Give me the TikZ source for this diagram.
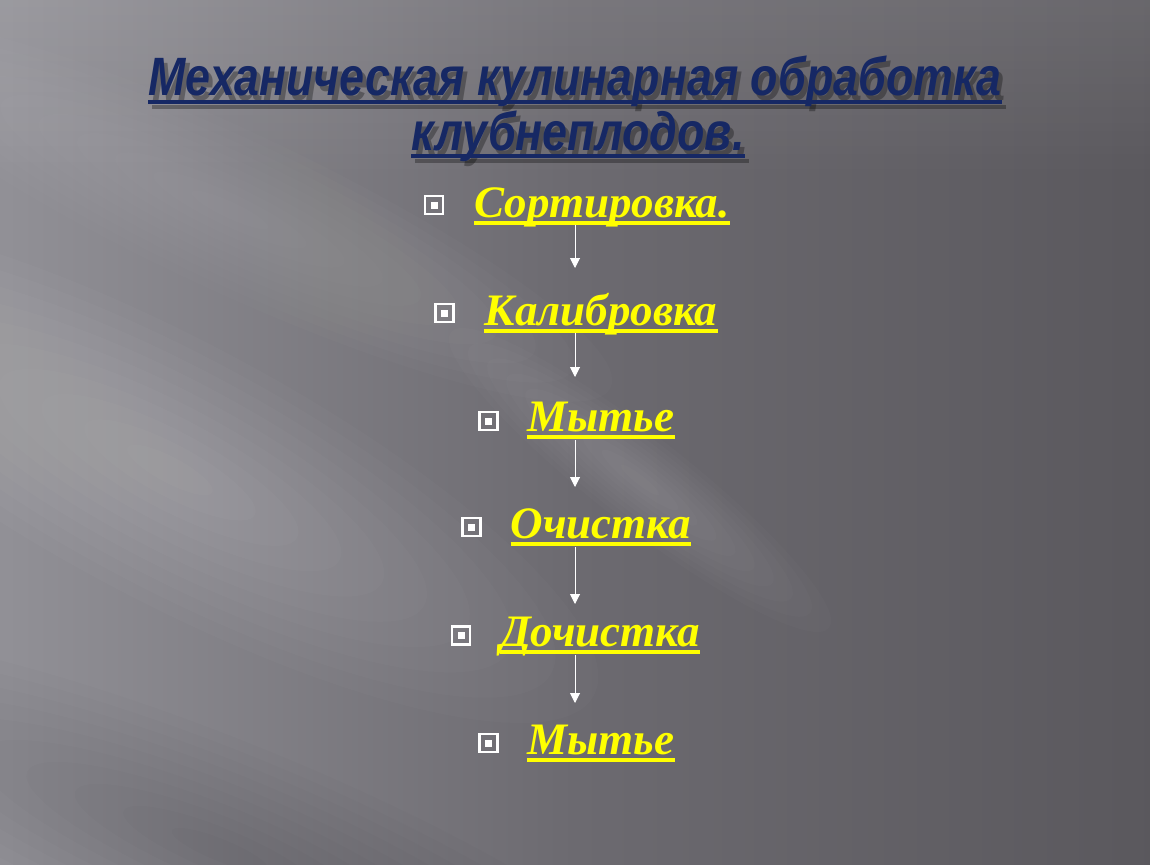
\documentclass[tikz,border=0pt]{standalone}
\usepackage{fontspec}
\setmainfont{Liberation Serif}
\newfontfamily\titlefont{Liberation Sans}
\usetikzlibrary{arrows.meta,calc,fadings}
\definecolor{bgL}{RGB}{146,145,151}
\definecolor{bgM}{RGB}{108,106,112}
\definecolor{bgR}{RGB}{90,88,93}
\definecolor{titleblue}{RGB}{22,40,100}
\definecolor{itemyellow}{RGB}{255,255,0}
\tikzset{
  titletext/.style={font=\titlefont\bfseries\itshape\fontsize{54}{60}\selectfont, inner sep=0pt, anchor=base, xscale=0.83, transform shape},
  titleul/.style={append after command={([yshift=-6pt]\tikzlastnode.base west) edge[line width=4pt, draw=titleblue] ([yshift=-6pt]\tikzlastnode.base east)}},
  shadowul/.style={append after command={([yshift=-6pt]\tikzlastnode.base west) edge[line width=4pt, draw=black, opacity=0.3] ([yshift=-6pt]\tikzlastnode.base east)}},
  itemtext/.style={font=\bfseries\itshape\fontsize{45}{50}\selectfont, text=itemyellow, inner sep=0pt, anchor=base,
    append after command={([yshift=-6pt]\tikzlastnode.base west) edge[line width=4pt, draw=itemyellow] ([yshift=-6pt]\tikzlastnode.base east)}},
  bulletbox/.style={draw=white, line width=2.5pt, minimum size=18pt, inner sep=0pt,
    path picture={\fill[white] (path picture bounding box.center) ++(-3.5pt,-3.5pt) rectangle ++(7pt,7pt);}},
  arr/.style={draw=white, line width=1pt, -{Triangle[length=10pt,width=10pt]}}
}
\begin{document}
\begin{tikzpicture}[x=1pt,y=-1pt]
\useasboundingbox (0,0) rectangle (1150,864);
% background
\begin{scope}
\clip (0,0) rectangle (1150,864);
\shade[left color=bgL, right color=bgR, middle color=bgM] (-10,-10) rectangle (1160,874);
\fill[white, opacity=0.10, path fading=south] (-20,-20) rectangle (1170,180);
\foreach \cx/\cy/\ang/\L/\W/\col/\op in {
   170/470/-28/480/130/white/0.018,
   230/210/-25/420/80/white/0.014,
   640/480/-38/240/45/white/0.015,
   220/850/-22/520/110/black/0.012}{
  \foreach \k in {1,...,10}{
    \pgfmathsetmacro\rx{\L*\k/10}
    \pgfmathsetmacro\ry{\W*\k/10}
    \fill[\col, opacity=\op, rotate around={\ang:(\cx,\cy)}] (\cx,\cy) ellipse [x radius=\rx pt, y radius=\ry pt];
  }
}
\end{scope}
% title (shadow, then text)
\node[titletext, text=black, opacity=0.3, shadowul] (t1s) at (579,101) {Механическая кулинарная обработка};
\node[titletext, text=black, opacity=0.3, shadowul] (t2s) at (582,155) {клубнеплодов.};
\node[titletext, text=titleblue, titleul] (t1) at (575,96) {Механическая кулинарная обработка};
\node[titletext, text=titleblue, titleul] (t2) at (578,150) {клубнеплодов.};
% items
\node[itemtext] (s1) at (602,217) {Сортировка.};
\node[itemtext] (s2) at (601,325) {Калибровка};
\node[itemtext] (s3) at (601,431) {Мытье};
\node[itemtext] (s4) at (601,538) {Очистка};
\node[itemtext] (s5) at (600,646) {Дочистка};
\node[itemtext] (s6) at (601,754) {Мытье};
% bullets
\node[bulletbox] (b1) at (434,205) {};
\node[bulletbox] (b2) at (444.5,313) {};
\node[bulletbox] (b3) at (488.5,421) {};
\node[bulletbox] (b4) at (471.5,527) {};
\node[bulletbox] (b5) at (461,635.5) {};
\node[bulletbox] (b6) at (488.5,743) {};
% arrows
\coordinate (ax) at (575,0);
\draw[arr] ($(s1.base -| ax)+(0,8)$) -- ($(s2.base -| ax)+(0,-57)$);
\draw[arr] ($(s2.base -| ax)+(0,8)$) -- ($(s3.base -| ax)+(0,-54)$);
\draw[arr] ($(s3.base -| ax)+(0,9)$) -- ($(s4.base -| ax)+(0,-51)$);
\draw[arr] ($(s4.base -| ax)+(0,9)$) -- ($(s5.base -| ax)+(0,-42)$);
\draw[arr] ($(s5.base -| ax)+(0,9)$) -- ($(s6.base -| ax)+(0,-51)$);
\end{tikzpicture}
\end{document}
